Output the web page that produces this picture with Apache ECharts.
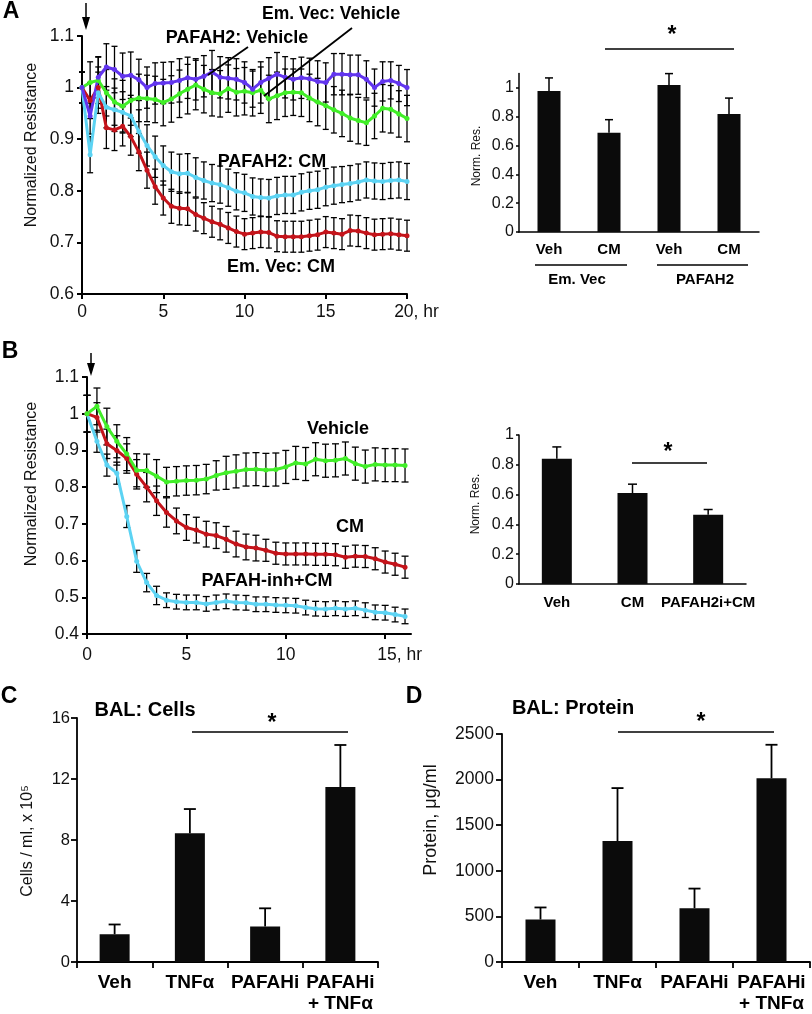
<!DOCTYPE html>
<html><head><meta charset="utf-8">
<script src="https://cdn.jsdelivr.net/npm/echarts@6/dist/echarts.min.js"></script>
<style>html,body{margin:0;padding:0;background:#fff}#c{width:812px;height:1014px}</style>
</head><body><div id="c"></div>
<script>
// ---------- Panel A (time course) ----------
const tA = [0,0.5,1,1.5,2,2.5,3,3.5,4,4.5,5,5.5,6,6.5,7,7.5,8,8.5,9,9.5,10,10.5,11,11.5,12,12.5,13,13.5,14,14.5,15,15.5,16,16.5,17,17.5,18,18.5,19,19.5,20];
const A_pafahVeh = [1.0,0.945,1.02,1.04,1.035,1.022,1.024,1.015,1.0,1.008,1.009,1.01,1.014,1.019,1.016,1.022,1.03,1.02,1.018,1.016,1.01,0.997,1.01,1.018,1.026,1.02,1.016,1.019,1.017,1.012,1.01,1.026,1.026,1.025,1.025,1.016,1.0,1.012,1.014,1.008,1.0];
const A_pafahVehErr = [0.03,0.035,0.04,0.045,0.045,0.045,0.045,0.04,0.04,0.04,0.04,0.04,0.042,0.04,0.04,0.04,0.042,0.04,0.04,0.04,0.04,0.035,0.04,0.04,0.042,0.04,0.04,0.04,0.04,0.04,0.038,0.04,0.04,0.038,0.038,0.036,0.036,0.038,0.036,0.035,0.035];
const A_emVecVeh = [1.0,1.01,1.014,0.99,0.972,0.964,0.975,0.98,0.979,0.977,0.971,0.978,0.988,0.997,1.005,0.997,0.99,0.988,0.998,0.991,0.993,0.99,0.995,0.978,0.984,0.99,0.991,0.99,0.98,0.972,0.965,0.957,0.95,0.941,0.936,0.932,0.945,0.96,0.958,0.949,0.94];
const A_emVecVehErr = [0.03,0.04,0.045,0.045,0.045,0.05,0.048,0.046,0.045,0.045,0.045,0.045,0.046,0.048,0.048,0.046,0.045,0.045,0.046,0.046,0.046,0.045,0.045,0.046,0.046,0.046,0.045,0.046,0.046,0.046,0.046,0.045,0.045,0.045,0.045,0.044,0.044,0.046,0.046,0.045,0.045];
const A_pafahCM = [1.0,0.87,0.99,0.962,0.957,0.952,0.945,0.915,0.888,0.866,0.849,0.837,0.833,0.834,0.826,0.82,0.815,0.812,0.806,0.799,0.796,0.789,0.787,0.786,0.79,0.792,0.792,0.797,0.8,0.802,0.807,0.81,0.812,0.814,0.817,0.821,0.819,0.818,0.82,0.821,0.818];
const A_pafahCMErr = [0.03,0.035,0.04,0.04,0.042,0.04,0.04,0.042,0.04,0.04,0.038,0.038,0.038,0.038,0.038,0.036,0.036,0.036,0.036,0.036,0.036,0.036,0.036,0.036,0.036,0.036,0.036,0.036,0.036,0.036,0.036,0.036,0.035,0.035,0.035,0.035,0.035,0.035,0.035,0.035,0.035];
const A_emVecCM = [1.0,0.975,1.0,0.922,0.918,0.925,0.905,0.875,0.84,0.808,0.786,0.77,0.766,0.765,0.754,0.747,0.74,0.735,0.728,0.721,0.716,0.718,0.72,0.719,0.712,0.711,0.711,0.711,0.713,0.715,0.72,0.718,0.716,0.723,0.722,0.718,0.715,0.716,0.717,0.715,0.713];
const A_emVecCMErr = [0.03,0.035,0.04,0.04,0.04,0.038,0.036,0.036,0.035,0.034,0.033,0.033,0.032,0.032,0.032,0.03,0.03,0.03,0.03,0.03,0.03,0.03,0.03,0.03,0.03,0.03,0.03,0.03,0.03,0.03,0.03,0.03,0.03,0.03,0.03,0.03,0.03,0.03,0.03,0.03,0.03];

// ---------- Panel A (bars) ----------
const A_barCats = ['Veh','CM','Veh','CM'];
const A_barVals = [0.98,0.69,1.02,0.82];
const A_barErr = [0.09,0.09,0.08,0.11];
const A_barTicks = [0,0.2,0.4,0.6,0.8,1];

// ---------- Panel B (time course) ----------
const tB = [0,0.5,1,1.5,2,2.5,3,3.5,4,4.5,5,5.5,6,6.5,7,7.5,8,8.5,9,9.5,10,10.5,11,11.5,12,12.5,13,13.5,14,14.5,15,15.5,16];
const B_veh = [1.0,1.02,0.965,0.925,0.89,0.846,0.845,0.83,0.814,0.816,0.818,0.819,0.822,0.832,0.839,0.843,0.848,0.849,0.847,0.848,0.855,0.866,0.863,0.876,0.872,0.873,0.878,0.864,0.856,0.862,0.86,0.86,0.859];
const B_vehErr = [0.05,0.05,0.05,0.045,0.045,0.045,0.045,0.045,0.04,0.04,0.04,0.04,0.04,0.04,0.045,0.045,0.045,0.045,0.045,0.045,0.045,0.045,0.045,0.045,0.045,0.045,0.045,0.045,0.045,0.045,0.045,0.045,0.045];
const B_cm = [1.0,0.99,0.918,0.9,0.878,0.835,0.8,0.763,0.731,0.708,0.69,0.683,0.672,0.668,0.658,0.645,0.637,0.634,0.628,0.62,0.618,0.618,0.618,0.617,0.617,0.616,0.609,0.612,0.611,0.605,0.596,0.59,0.582];
const B_cmErr = [0.05,0.04,0.04,0.04,0.04,0.04,0.04,0.04,0.04,0.035,0.035,0.035,0.035,0.035,0.035,0.035,0.035,0.035,0.03,0.03,0.03,0.03,0.03,0.03,0.03,0.03,0.03,0.03,0.03,0.03,0.03,0.03,0.03];
const B_inhCM = [1.0,0.925,0.86,0.838,0.72,0.598,0.54,0.505,0.492,0.488,0.486,0.486,0.482,0.486,0.489,0.486,0.485,0.481,0.481,0.479,0.478,0.477,0.472,0.469,0.468,0.47,0.468,0.47,0.465,0.459,0.458,0.453,0.448];
const B_inhCMErr = [0.05,0.03,0.03,0.03,0.03,0.03,0.025,0.025,0.02,0.02,0.02,0.02,0.02,0.02,0.02,0.02,0.02,0.02,0.02,0.02,0.02,0.02,0.02,0.02,0.02,0.02,0.02,0.02,0.02,0.02,0.02,0.02,0.02];
const B_xTicks = [0,5,10,15];

// ---------- Panel B (bars) ----------
const B_barCats = ['Veh','CM','PAFAH2i+CM'];
const B_barVals = [0.84,0.61,0.465];
const B_barErr = [0.08,0.06,0.035];

// ---------- Panel C ----------
const C_cats = ['Veh','TNFα','PAFAHi','PAFAHi\n+ TNFα'];
const C_vals = [1.82,8.44,2.33,11.47];
const C_err = [0.64,1.59,1.19,2.76];

// ---------- Panel D ----------
const D_cats = ['Veh','TNFα','PAFAHi','PAFAHi\n+ TNFα'];
const D_vals = [466,1327,590,2014];
const D_err = [132,580,215,368];

const FONT = '"Liberation Sans", Arial, Helvetica, sans-serif';
const C_PURPLE = '#6235ee', C_GREEN = '#41ee28', C_CYAN = '#5cd3f3', C_RED = '#c4141b';
const BAR = '#0b0b0b';

function pairs(t, v){ return t.map((x,i)=>[x, v[i]]); }
function triples(t, v, e){ return t.map((x,i)=>[x, v[i], e[i]]); }

function errRender(capW){
  return function(params, api){
    const x = api.value(0), y = api.value(1), e = api.value(2);
    const a = api.coord([x, y + e]), b = api.coord([x, y - e]);
    const h = capW/2, st = {stroke:'#000', lineWidth:1.3};
    return {type:'group', children:[
      {type:'line', shape:{x1:a[0],y1:a[1],x2:b[0],y2:b[1]}, style:st},
      {type:'line', shape:{x1:a[0]-h,y1:a[1],x2:a[0]+h,y2:a[1]}, style:st},
      {type:'line', shape:{x1:b[0]-h,y1:b[1],x2:b[0]+h,y2:b[1]}, style:st}
    ]};
  };
}
function upErrRender(capW, lw){
  return function(params, api){
    const x = api.value(0), y = api.value(1), e = api.value(2);
    const a = api.coord([x, y + e]), b = api.coord([x, y]);
    const h = capW/2, st = {stroke:'#000', lineWidth:lw};
    return {type:'group', children:[
      {type:'line', shape:{x1:a[0],y1:a[1],x2:b[0],y2:b[1]}, style:st},
      {type:'line', shape:{x1:a[0]-h,y1:a[1],x2:a[0]+h,y2:a[1]}, style:st}
    ]};
  };
}

function lineSeries(gi, data, color){
  return {type:'line', xAxisIndex:gi, yAxisIndex:gi, data:data, z:3,
    symbol:'circle', symbolSize:5, showSymbol:true, showAllSymbol:true,
    lineStyle:{color:color, width:3}, itemStyle:{color:color}};
}
function errSeries(gi, data, capW){
  return {type:'custom', xAxisIndex:gi, yAxisIndex:gi, data:data, z:2,
    renderItem:errRender(capW), encode:{x:0,y:1}};
}
function barSeries(gi, vals, w){
  return {type:'bar', xAxisIndex:gi, yAxisIndex:gi, data:vals, barWidth:w,
    itemStyle:{color:BAR}, z:2};
}
function barErrSeries(gi, vals, errs, capW, lw){
  return {type:'custom', xAxisIndex:gi, yAxisIndex:gi, z:3,
    data: vals.map((v,i)=>[i, v, errs[i]]),
    renderItem:upErrRender(capW, lw), encode:{x:0,y:1}};
}

const axLine = w => ({show:true, lineStyle:{color:'#000', width:w}});
const axTick = (w,len) => ({show:true, length:len, lineStyle:{color:'#000', width:w}});
const lbl = (size, extra) => Object.assign({fontSize:size, color:'#111', fontFamily:FONT}, extra||{});

const chart = echarts.init(document.getElementById('c'), null, {renderer:'canvas'});

const option = {
  animation:false,
  backgroundColor:'#fff',
  grid:[
    {left:82, top:36, width:325, height:258},
    {left:519, top:73.6, width:240, height:158.4},
    {left:87, top:377, width:324, height:257},
    {left:519, top:435, width:227, height:149},
    {left:77, top:718, width:301, height:249},
    {left:502, top:734, width:308, height:234}
  ],
  xAxis:[
    {type:'value', gridIndex:0, min:0, max:20, interval:5, splitLine:{show:false},
      axisLine:axLine(2), axisTick:axTick(2,5),
      axisLabel:lbl(17.5,{margin:9, formatter:v=> v===20 ? '{h|20, hr}' : String(v),
        rich:{h:{fontSize:17.5, color:'#111', fontFamily:FONT, padding:[0,0,0,19]}}})},
    {type:'category', gridIndex:1, data:A_barCats, axisLine:axLine(1.5), axisTick:{show:false},
      axisLabel:lbl(15,{fontWeight:'bold', margin:10, color:'#000', interval:0})},
    {type:'value', gridIndex:2, min:0, max:16.3, interval:5, splitLine:{show:false},
      axisLine:axLine(2), axisTick:Object.assign(axTick(2,5),{customValues:B_xTicks}),
      axisLabel:lbl(17.5,{margin:12, customValues:B_xTicks, formatter:v=> v===15 ? '{h|15, hr}' : String(v),
        rich:{h:{fontSize:17.5, color:'#111', fontFamily:FONT, padding:[0,0,0,29]}}})},
    {type:'category', gridIndex:3, data:B_barCats, axisLine:axLine(1.5), axisTick:{show:false},
      axisLabel:lbl(15,{fontWeight:'bold', margin:11, color:'#000', interval:0})},
    {type:'category', gridIndex:4, data:C_cats, axisLine:axLine(1.8), axisTick:axTick(1.8,6),
      axisLabel:lbl(19,{fontWeight:'bold', margin:10, lineHeight:21, color:'#000', interval:0})},
    {type:'category', gridIndex:5, data:D_cats, axisLine:axLine(1.8), axisTick:axTick(1.8,6),
      axisLabel:lbl(19,{fontWeight:'bold', margin:10, lineHeight:21, color:'#000', interval:0})}
  ],
  yAxis:[
    {type:'value', gridIndex:0, min:0.6, max:1.1, interval:0.1, splitLine:{show:false},
      axisLine:axLine(2), axisTick:axTick(2,5), axisLabel:lbl(17.5,{margin:8})},
    {type:'value', gridIndex:1, min:0, max:1.1, interval:0.2, splitLine:{show:false},
      axisLine:axLine(1.5), axisTick:Object.assign(axTick(1.5,3),{customValues:A_barTicks}),
      axisLabel:lbl(16,{margin:5, customValues:A_barTicks})},
    {type:'value', gridIndex:2, min:0.4, max:1.1, interval:0.1, splitLine:{show:false},
      axisLine:axLine(2), axisTick:axTick(2,5), axisLabel:lbl(17.5,{margin:8})},
    {type:'value', gridIndex:3, min:0, max:1, interval:0.2, splitLine:{show:false},
      axisLine:axLine(1.5), axisTick:axTick(1.5,3), axisLabel:lbl(16,{margin:5})},
    {type:'value', gridIndex:4, min:0, max:16, interval:4, splitLine:{show:false},
      axisLine:axLine(1.8), axisTick:axTick(1.8,6), axisLabel:lbl(16.5,{margin:7})},
    {type:'value', gridIndex:5, min:0, max:2500, interval:500, splitLine:{show:false},
      axisLine:axLine(1.8), axisTick:axTick(1.8,6), axisLabel:lbl(17.5,{margin:8, formatter:v=>String(v)})}
  ],
  series:[
    errSeries(0, triples(tA, A_emVecCM, A_emVecCMErr), 6),
    errSeries(0, triples(tA, A_pafahCM, A_pafahCMErr), 6),
    errSeries(0, triples(tA, A_emVecVeh, A_emVecVehErr), 6),
    errSeries(0, triples(tA, A_pafahVeh, A_pafahVehErr), 6),
    lineSeries(0, pairs(tA, A_emVecCM), C_RED),
    lineSeries(0, pairs(tA, A_pafahCM), C_CYAN),
    lineSeries(0, pairs(tA, A_emVecVeh), C_GREEN),
    lineSeries(0, pairs(tA, A_pafahVeh), C_PURPLE),

    barSeries(1, A_barVals, 23),
    barErrSeries(1, A_barVals, A_barErr, 8, 1.5),

    errSeries(2, triples(tB, B_inhCM, B_inhCMErr), 7),
    errSeries(2, triples(tB, B_cm, B_cmErr), 7),
    errSeries(2, triples(tB, B_veh, B_vehErr), 7),
    lineSeries(2, pairs(tB, B_inhCM), C_CYAN),
    lineSeries(2, pairs(tB, B_cm), C_RED),
    lineSeries(2, pairs(tB, B_veh), C_GREEN),

    barSeries(3, B_barVals, 30),
    barErrSeries(3, B_barVals, B_barErr, 9, 1.5),

    barSeries(4, C_vals, 30),
    barErrSeries(4, C_vals, C_err, 12, 1.8),

    barSeries(5, D_vals, 30),
    barErrSeries(5, D_vals, D_err, 12, 1.8)
  ],
  graphic:[]
};

function txt(x, y, s, size, bold, align){
  return {type:'text', x:x, y:y, z:10, style:{text:s, fontSize:size, fontWeight:bold?'bold':'normal',
    fontFamily:FONT, fill:'#000', textAlign:align||'center', textVerticalAlign:'middle'}};
}
function vtxt(x, y, s, size){
  return {type:'text', x:x, y:y, rotation:Math.PI/2, z:10, style:{text:s, fontSize:size, fontFamily:FONT, fill:'#111',
    textAlign:'center', textVerticalAlign:'middle'}};
}
function seg(x1,y1,x2,y2,w){
  return {type:'line', z:10, shape:{x1:x1,y1:y1,x2:x2,y2:y2}, style:{stroke:'#000', lineWidth:w||1.5}};
}
function arrow(x, y1, y2){
  return [seg(x, y1, x, y2-6, 1.5),
    {type:'polygon', z:10, shape:{points:[[x-4,y2-13],[x+4,y2-13],[x,y2]]}, style:{fill:'#000'}}];
}

option.graphic = [
  txt(11, 12, 'A', 23, true), txt(10, 352, 'B', 23, true), txt(9, 697, 'C', 23, true), txt(414, 697, 'D', 23, true),
  ...arrow(86, 3, 30), ...arrow(91, 353, 376),
  vtxt(32, 145, 'Normalized Resistance', 16),
  vtxt(32, 484, 'Normalized Resistance', 16),
  vtxt(477, 156, 'Norm. Res.', 12),
  vtxt(476, 504, 'Norm. Res.', 12),
  vtxt(28, 841, 'Cells / ml, x 10⁵', 16),
  vtxt(431, 820, 'Protein, μg/ml', 18),
  txt(262, 14, 'Em. Vec: Vehicle', 17.5, true, 'left'),
  txt(237, 38, 'PAFAH2: Vehicle', 18, true),
  txt(272, 162, 'PAFAH2: CM', 18, true),
  txt(281, 267, 'Em. Vec: CM', 18, true),
  seg(352, 28, 264, 96, 1.8),
  seg(248, 47, 208, 75, 1.8),
  seg(535, 265, 627, 265, 1.5), seg(657, 265, 748, 265, 1.5),
  txt(577, 280, 'Em. Vec', 15, true), txt(705, 280, 'PAFAH2', 15, true),
  seg(605, 49, 734, 49, 1.5), txt(672, 36, '*', 23, true),
  txt(338, 429, 'Vehicle', 18, true),
  txt(350, 527, 'CM', 18, true),
  txt(267, 581, 'PAFAH-inh+CM', 18, true),
  seg(632, 463, 707, 463, 1.5), txt(668, 453, '*', 23, true),
  txt(145, 710, 'BAL: Cells', 20, true),
  seg(192, 732, 348, 732, 1.5), txt(272, 724, '*', 23, true),
  txt(573, 708, 'BAL: Protein', 20, true),
  seg(618, 732, 774, 732, 1.5), txt(701, 723, '*', 23, true)
];

chart.setOption(option);
</script>
</body></html>
